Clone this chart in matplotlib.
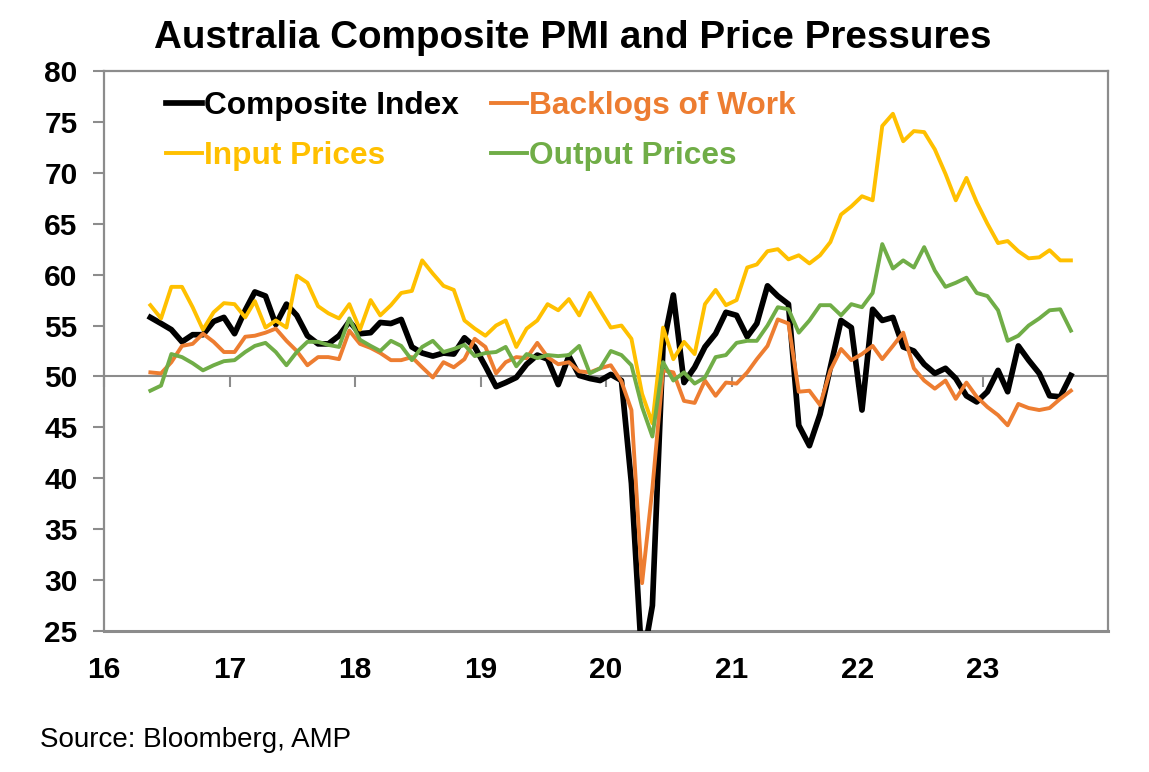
import matplotlib
matplotlib.use("Agg")
import matplotlib.pyplot as plt
import matplotlib.dates as mdates
import pandas as pd

# ---------------- data ----------------
start_month = "2016-05-01"
series_names = ["Composite Index", "Backlogs of Work", "Input Prices", "Output Prices"]
composite = [55.8, 55.2, 54.6, 53.4, 54.1, 54.1, 55.4, 55.8, 54.2, 56.5,
             58.3, 57.9, 55.1, 57.1, 56.0, 54.0, 53.2, 53.2, 54.0, 55.4,
             54.2, 54.3, 55.3, 55.2, 55.6, 52.9, 52.3, 52.0, 52.3, 52.2,
             53.8, 52.9, 51.0, 49.0, 49.4, 49.9, 51.2, 52.1, 51.7, 49.2,
             52.0, 50.1, 49.8, 49.6, 50.2, 49.6, 39.5, 21.7, 27.5, 53.0,
             58.0, 49.4, 50.9, 52.9, 54.2, 56.3, 56.0, 53.9, 55.2, 58.9,
             57.9, 57.1, 45.2, 43.2, 46.3, 50.9, 55.5, 54.8, 46.7, 56.6,
             55.5, 55.8, 52.9, 52.5, 51.2, 50.3, 50.8, 49.8, 48.1, 47.5,
             48.5, 50.6, 48.5, 53.0, 51.6, 50.3, 48.1, 48.0, 50.1]
backlogs = [50.4, 50.3, 51.4, 53.0, 53.2, 54.2, 53.4, 52.4, 52.4, 53.9,
            54.0, 54.3, 54.7, 53.5, 52.5, 51.1, 51.9, 51.9, 51.7, 54.5,
            53.2, 52.8, 52.3, 51.6, 51.6, 51.9, 50.9, 49.9, 51.4, 50.9,
            51.7, 53.7, 52.9, 50.3, 51.4, 51.9, 51.8, 53.3, 51.9, 51.2,
            51.4, 50.5, 50.4, 50.8, 51.1, 49.5, 46.7, 29.7, 39.0, 50.6,
            50.4, 47.6, 47.4, 49.6, 48.1, 49.4, 49.3, 50.4, 51.7, 53.0,
            55.6, 55.2, 48.5, 48.6, 47.2, 50.6, 52.7, 51.6, 52.2, 53.0,
            51.7, 53.0, 54.3, 50.8, 49.6, 48.8, 49.6, 47.8, 49.4, 48.0,
            47.0, 46.2, 45.2, 47.3, 46.9, 46.7, 46.9, 47.8, 48.6]
input_prices = [57.0, 55.7, 58.8, 58.8, 56.8, 54.6, 56.3, 57.2, 57.1, 55.8,
                57.4, 54.8, 55.5, 54.8, 59.9, 59.2, 56.9, 56.2, 55.7, 57.1,
                54.6, 57.5, 56.0, 57.0, 58.2, 58.4, 61.4, 60.1, 58.9, 58.5,
                55.5, 54.7, 54.0, 55.0, 55.5, 52.9, 54.7, 55.5, 57.1, 56.5,
                57.6, 56.0, 58.2, 56.5, 54.8, 55.0, 53.7, 48.3, 45.4, 54.8,
                51.7, 53.4, 52.2, 57.1, 58.5, 57.0, 57.5, 60.7, 61.0, 62.3,
                62.5, 61.5, 61.9, 61.1, 61.9, 63.2, 65.9, 66.7, 67.7, 67.3,
                74.6, 75.8, 73.1, 74.1, 74.0, 72.3, 69.9, 67.3, 69.5, 67.1,
                65.0, 63.1, 63.3, 62.3, 61.6, 61.7, 62.4, 61.4, 61.4]
output_prices = [48.6, 49.1, 52.2, 51.9, 51.3, 50.6, 51.1, 51.5, 51.6, 52.4,
                 53.0, 53.3, 52.4, 51.1, 52.4, 53.4, 53.4, 53.1, 52.9, 55.7,
                 53.6, 53.0, 52.5, 53.5, 53.0, 51.6, 52.9, 53.5, 52.4, 52.7,
                 53.1, 52.0, 52.3, 52.4, 52.9, 51.0, 52.2, 51.8, 52.1, 52.0,
                 52.1, 53.0, 50.3, 50.8, 52.5, 52.1, 51.1, 47.0, 44.1, 51.4,
                 49.6, 50.4, 49.3, 49.9, 51.9, 52.1, 53.3, 53.5, 53.5, 55.0,
                 56.8, 56.6, 54.3, 55.5, 57.0, 57.0, 56.0, 57.1, 56.8, 58.2,
                 63.0, 60.6, 61.4, 60.7, 62.7, 60.4, 58.8, 59.2, 59.7, 58.2,
                 57.9, 56.5, 53.5, 54.0, 55.0, 55.7, 56.5, 56.6, 54.5]
year_labels = ["16", "17", "18", "19", "20", "21", "22", "23"]
y_ticks = [25, 30, 35, 40, 45, 50, 55, 60, 65, 70, 75, 80]

# ---------------- styling ----------------
colors = ["#000000", "#ED7D31", "#FFC000", "#70AD47"]
widths = [4.1, 2.8, 2.8, 2.8]
gray = "#8C8C8C"

plt.rcParams["font.family"] = ["Liberation Sans", "DejaVu Sans"]

dates = pd.date_range(start_month, periods=len(composite), freq="MS") + pd.Timedelta(days=14)
x = mdates.date2num(dates)
year_pos = mdates.date2num(pd.to_datetime(["20%s-01-01" % y for y in year_labels]))
x_end = mdates.date2num(pd.Timestamp("2024-01-01"))

fig = plt.figure(figsize=(11.49, 7.72), dpi=100)
ax = fig.add_axes([104 / 1149, 1 - 631 / 772, (1108 - 104) / 1149, (631 - 71) / 772])

lines = []
for vals, c, lw, name in zip([composite, backlogs, input_prices, output_prices],
                             colors, widths, series_names):
    ln, = ax.plot(x, vals, color=c, lw=lw, label=name, solid_joinstyle="round", zorder=3)
    lines.append(ln)

ymin, ymax = y_ticks[0], y_ticks[-1]
ax.set_ylim(ymin, ymax)
ax.set_xlim(year_pos[0], x_end)
ax.axhline(50, color=gray, lw=1.5, zorder=1)

for s in ax.spines.values():
    s.set_color(gray)
    s.set_linewidth(1.6)
ax.spines["bottom"].set_linewidth(2.2)

ax.set_yticks(y_ticks)
ax.set_yticklabels([str(v) for v in y_ticks], fontsize=21.5, fontweight="bold")
ax.tick_params(axis="y", length=8, width=1.5, color=gray, pad=11)

ax.set_xticks(year_pos)
ax.set_xticklabels(year_labels, fontsize=21.5, fontweight="bold")
ax.tick_params(axis="x", length=0, pad=18)

# tick marks for the years on the 50 line
sec = ax.secondary_xaxis((50 - ymin) / (ymax - ymin))
sec.set_xticks(year_pos)
sec.tick_params(axis="x", length=8, width=1.5, color=gray, labelbottom=False, direction="out")
sec.spines["bottom"].set_visible(False)

order = [0, 2, 1, 3]
leg = ax.legend([lines[i] for i in order], [series_names[i] for i in order],
                loc="upper left", bbox_to_anchor=(166 / 1149, 1 - 91 / 772),
                bbox_transform=fig.transFigure, ncol=2, frameon=False,
                prop={"weight": "bold", "size": 22.8}, handlelength=1.15,
                handletextpad=0.05, columnspacing=1.0, labelspacing=0.62,
                borderpad=0, borderaxespad=0)
for t, i in zip(leg.get_texts(), order):
    t.set_color(colors[i])

fig.text(573 / 1149, 1 - 48 / 772, "Australia Composite PMI and Price Pressures",
         ha="center", va="baseline", fontsize=27.8, fontweight="bold")
fig.text(40 / 1149, 1 - 746.7 / 772, "Source: Bloomberg, AMP",
         ha="left", va="baseline", fontsize=20)

fig.savefig("out.png", dpi=100)
